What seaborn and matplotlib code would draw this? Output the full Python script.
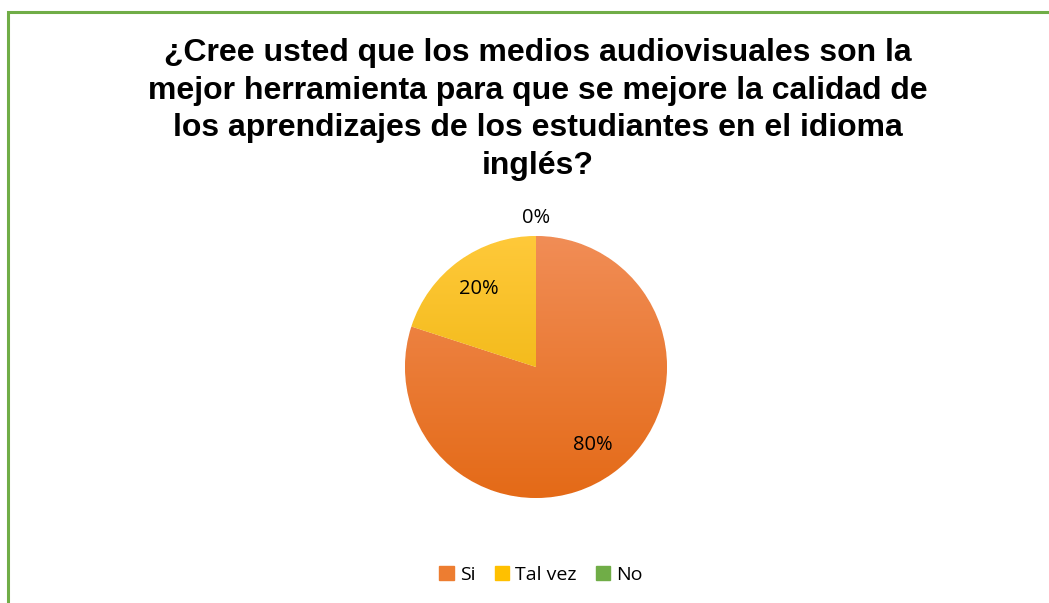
import numpy as np
import matplotlib
matplotlib.use("Agg")
import matplotlib.pyplot as plt
import seaborn as sns
from matplotlib.colors import LinearSegmentedColormap
from matplotlib.patches import Rectangle, Patch

# Data
categories = ['Si', 'Tal vez', 'No']
values = [80, 20, 0]
title = ('¿Cree usted que los medios audiovisuales son la\n'
         'mejor herramienta para que se mejore la calidad de\n'
         'los aprendizajes de los estudiantes en el idioma\n'
         'inglés?')

# Colours (top, bottom of gradient)
base_colors = ['#ED7D31', '#FFC000', '#70AD47']
grad_colors = [('#F18D56', '#E46A17'), ('#FFC93A', '#E8AE00'), ('#7FBA58', '#64A03C')]

sns.set_theme(style='white')
plt.rcParams['font.family'] = ['Open Sans', 'DejaVu Sans']

fig = plt.figure(figsize=(10.49, 6.03), dpi=100)
W, H = 1049, 603

# green frame
fig.patches.append(Rectangle((8 / W, -0.05), 1.1, (603 - 12) / H + 0.05,
                             transform=fig.transFigure, fill=False,
                             edgecolor='#70AD47', linewidth=2.2))

fig.text(0.513, 1 - 38 / H, title, ha='center', va='top', color='black',
         fontsize=23, fontweight='bold', family='Liberation Sans',
         linespacing=1.33)

# pie axes: center (536, 367), radius 131 px
cx, cy, r = 536, 367, 131
half = 200
ax = fig.add_axes([(cx - half) / W, (H - cy - half) / H, 2 * half / W, 2 * half / H])
wedges, texts, autotexts = ax.pie(values, colors=base_colors, startangle=90,
                                  counterclock=False, autopct='%1.0f%%',
                                  pctdistance=0.74, radius=1,
                                  wedgeprops=dict(linewidth=0.6, edgecolor='white'),
                                  textprops=dict(fontsize=14.5, color='black'))
lim = half / r
ax.set_aspect('equal')
ax.axis('off')

# gradient fill clipped to each wedge
for w, (top, bot) in zip(wedges, grad_colors):
    cmap = LinearSegmentedColormap.from_list('g', [bot, top])
    grad = np.linspace(0, 1, 256).reshape(-1, 1)
    im = ax.imshow(grad, extent=(-1, 1, -1, 1), origin='lower', cmap=cmap,
                   aspect='auto', zorder=w.get_zorder() + 0.1)
    im.set_clip_path(w)
ax.set_xlim(-lim, lim)
ax.set_ylim(-lim, lim)

# zero-value label sits outside the pie
for v, w, t in zip(values, wedges, autotexts):
    t.set_zorder(5)
    if v == 0:
        ang = np.deg2rad((w.theta1 + w.theta2) / 2)
        t.set_position((1.14 * np.cos(ang), 1.14 * np.sin(ang)))

handles = [Patch(color=c) for c in base_colors]
fig.legend(handles, categories, loc='center', bbox_to_anchor=(541 / W, 1 - 575 / H),
           ncol=3, frameon=False, fontsize=14, handlelength=0.75, handleheight=0.75,
           handletextpad=0.3, columnspacing=1.0, labelcolor='black')

fig.savefig('out.png', dpi=100, facecolor='white')
